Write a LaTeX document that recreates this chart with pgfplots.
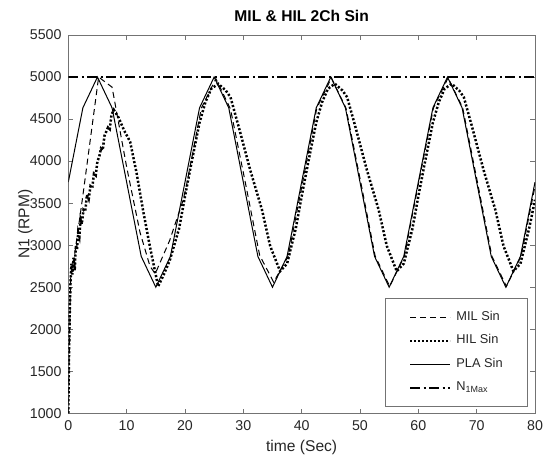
\documentclass[border=0pt]{standalone}
\usepackage{fontspec}
\setmainfont{Liberation Sans}
\usepackage{pgfplots}
\pgfplotsset{compat=1.18}
\definecolor{axgray}{gray}{0.45}
\definecolor{txtgray}{gray}{0.15}
\begin{document}
\begin{tikzpicture}
\begin{axis}[
  scale only axis, width=466.7bp, height=378.3bp,
  xmin=0, xmax=80, ymin=1000, ymax=5500,
  xtick={0,10,...,80}, ytick={1000,1500,...,5500},
  tick align=inside, major tick length=4.7bp,
  axis line style={draw=axgray, line width=0.6bp},
  every tick/.style={draw=axgray, line width=0.6bp},
  /pgf/number format/assume math mode=true,
  /pgf/number format/set thousands separator={},
  tick label style={font=\fontsize{14.2bp}{17bp}\selectfont, text=txtgray, inner sep=0pt},
  yticklabel style={anchor=east, xshift=-6.6bp},
  xticklabel style={anchor=north, yshift=-7.4bp},
  title={MIL \& HIL 2Ch Sin},
  title style={at={(axis description cs:0.5,1)}, anchor=base, yshift=7.7bp, inner sep=0pt, font=\bfseries\fontsize{15.6bp}{18bp}\selectfont},
  xlabel={time (Sec)},
  xlabel style={at={(axis description cs:0.5,-0.0997)}, anchor=base, inner sep=0pt, font=\fontsize{15.6bp}{18bp}\selectfont, text=txtgray},
  ylabel={N1 (RPM)},
  ylabel style={at={(axis description cs:-0.0918,0.5)}, anchor=center, inner sep=0pt, font=\fontsize{15.6bp}{18bp}\selectfont, text=txtgray},
  legend style={at={(0.985,0.0167)}, anchor=south east, draw=axgray, line width=0.6bp, fill=white,
    font=\fontsize{12.8bp}{15bp}\selectfont, text=txtgray, inner xsep=24bp, inner ysep=11bp,
    row sep=8bp, column sep=4bp, nodes={inner sep=1bp, text height=9.5bp, text depth=4bp}},
  legend cell align=left,
  legend image code/.code={\draw[#1] (0bp,0bp) -- (40bp,0bp);},
]
% MIL Sin
\addplot[black, line width=1bp, dash pattern=on 6bp off 4bp] coordinates {
(0,1000) (0.4,2650) (1.0,2850) (2.4,3540) (5.2,5000) (7.5,4880) (10.0,3930) (12.3,3150)
(14.0,2750) (14.9,2660) (17.4,3060) (19.7,3540) (20.4,3760) (22.8,4630) (25.3,4980)
(27.8,4620) (30.3,3760) (32.8,2880) (35.2,2560) (37.7,2870) (40.2,3760) (42.6,4630)
(45.1,4990) (47.6,4630) (50.1,3760) (52.6,2870) (55.1,2510) (57.6,2866) (60.1,3760)
(62.6,4634) (65.1,4990) (67.6,4634) (70.1,3760) (72.6,2870) (75.1,2510) (77.6,2866) (80,3700)
};
\addlegendentry{MIL Sin}
% HIL Sin
\addplot[black, line width=2.5bp, dash pattern=on 2.1bp off 1.9bp] coordinates {
(0,1000) (0.1,1600) (0.25,2200) (0.4,2600) (0.55,2780) (0.7,2650) (0.9,2850) (1.1,2700)
(1.3,3000) (1.5,2950) (1.7,3150) (1.9,3100) (2.1,3300) (2.3,3250) (2.6,3420) (2.9,3400)
(3.2,3600) (3.5,3550) (3.8,3700) (4.1,3680) (4.4,3850) (4.7,3830) (5.0,4000) (5.3,4050)
(5.6,4150) (5.9,4130) (6.2,4300) (6.5,4350) (6.8,4400) (7.1,4380) (7.4,4550) (7.8,4610)
(8.6,4520) (9.6,4360) (10.6,4230) (11.7,3860) (12.8,3420) (14.0,2980) (15.4,2510)
(16.3,2640) (17.4,2820) (19.0,3200) (20.0,3580) (21.0,3940) (22.5,4460) (23.5,4700)
(24.5,4860) (25.7,4920) (27.0,4840) (27.8,4760) (29.2,4410) (31.2,3890) (33.2,3420)
(34.6,2990) (36.3,2690) (37.5,2780) (39.0,3200) (40.0,3580) (41.0,3940) (42.5,4460)
(43.5,4700) (44.5,4860) (45.7,4920) (47.0,4840) (47.8,4760) (49.2,4410) (51.2,3890)
(53.2,3420) (54.6,2990) (56.3,2690) (57.5,2780) (59.0,3200) (60.0,3580) (61.0,3940)
(62.5,4460) (63.5,4700) (64.5,4860) (65.7,4920) (67.0,4840) (67.8,4760) (69.2,4410)
(71.2,3890) (73.2,3420) (74.6,2990) (76.3,2690) (77.5,2780) (79.0,3200) (80.0,3540)
};
\addlegendentry{HIL Sin}
% PLA Sin
\addplot[black, line width=1bp] coordinates {
(0,3750) (2.5,4634) (5,5000) (7.5,4634) (10,3750) (12.5,2866) (15,2500) (17.5,2866)
(20,3750) (22.5,4634) (25,5000) (27.5,4634) (30,3750) (32.5,2866) (35,2500) (37.5,2866)
(40,3750) (42.5,4634) (45,5000) (47.5,4634) (50,3750) (52.5,2866) (55,2500) (57.5,2866)
(60,3750) (62.5,4634) (65,5000) (67.5,4634) (70,3750) (72.5,2866) (75,2500) (77.5,2866)
(80,3750)
};
\addlegendentry{PLA Sin}
% N1 max
\addplot[black, line width=2.5bp, dash pattern=on 10bp off 3.5bp on 2bp off 3.5bp] coordinates {
(0,5000) (80,5000)
};
\addlegendentry{N$_{\mathrm{1Max}}$}
\end{axis}
\path (current axis.south west) ++(-68.3bp,-43.7bp) rectangle ([xshift=12bp,yshift=35bp]current axis.north east);
\end{tikzpicture}
\end{document}
